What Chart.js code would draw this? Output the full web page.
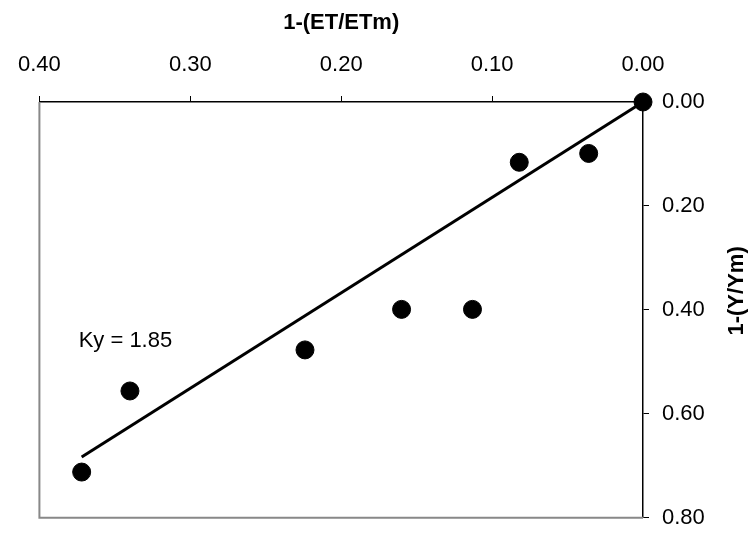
<!DOCTYPE html>
<html>
<head>
<meta charset="utf-8">
<script src="https://cdn.jsdelivr.net/npm/chart.js@4"></script>
<style>
  body { margin: 0; background: #fff; }
</style>
</head>
<body>
<canvas id="kyChart" width="751" height="544"></canvas>
<script>
// measured points: 1-(ET/ETm) vs 1-(Y/Ym)
const etDeficit = [0.000, 0.036, 0.082, 0.113, 0.160, 0.224, 0.340, 0.372];
const yieldDeficit = [0.000, 0.099, 0.116, 0.399, 0.399, 0.477, 0.556, 0.712];

// fitted line ends
const fitX = [0.000, 0.372];
const fitY = [0.000, 0.683];

const xTicks = [0.40, 0.30, 0.20, 0.10, 0.00];
const yTicks = [0.00, 0.20, 0.40, 0.60, 0.80];

const kyLabel = 'Ky = 1.85';
const kyAt = { x: 0.374, y: 0.46 };

const FONT = '"Liberation Sans", Arial, sans-serif';

// gray frame on left/bottom, ky text and rotated right title
const framePlugin = {
  id: 'frame',
  beforeDatasetsDraw(chart) {
    const { ctx, chartArea: a } = chart;
    ctx.save();
    ctx.strokeStyle = '#888';
    ctx.lineWidth = 2;
    ctx.beginPath();
    ctx.moveTo(a.left, a.top);
    ctx.lineTo(a.left, a.bottom);
    ctx.lineTo(a.right, a.bottom);
    ctx.stroke();
    ctx.restore();
  },
  afterDraw(chart) {
    const { ctx, chartArea: a, scales } = chart;
    ctx.save();
    ctx.fillStyle = '#000';
    ctx.font = '22px ' + FONT;
    ctx.textAlign = 'left';
    ctx.textBaseline = 'middle';
    ctx.fillText(kyLabel, scales.x.getPixelForValue(kyAt.x), scales.y.getPixelForValue(kyAt.y));

    ctx.font = 'bold 22px ' + FONT;
    ctx.translate(737, (a.top + a.bottom) / 2 - 19);
    ctx.rotate(-Math.PI / 2);
    ctx.textAlign = 'center';
    ctx.fillText('1-(Y/Ym)', 0, 0);
    ctx.restore();
  }
};

const ctx = document.getElementById('kyChart').getContext('2d');
new Chart(ctx, {
  type: 'scatter',
  data: {
    datasets: [
      {
        label: 'fit',
        data: fitX.map((x, i) => ({ x: x, y: fitY[i] })),
        showLine: true,
        borderColor: '#000',
        borderWidth: 3,
        pointRadius: 0,
        clip: false,
        order: 2
      },
      {
        label: 'observed',
        data: etDeficit.map((x, i) => ({ x: x, y: yieldDeficit[i] })),
        backgroundColor: '#000',
        borderColor: '#000',
        pointRadius: 9,
        clip: false,
        order: 1
      }
    ]
  },
  options: {
    responsive: false,
    animation: false,
    layout: { padding: { left: 32, right: 0, top: 0, bottom: 7 } },
    plugins: {
      legend: { display: false },
      tooltip: { enabled: false }
    },
    scales: {
      x: {
        type: 'linear',
        position: 'top',
        reverse: true,
        min: 0,
        max: 0.4,
        afterFit(scale) { scale.height = 102; },
        afterBuildTicks(scale) { scale.ticks = xTicks.map(v => ({ value: v })); },
        ticks: {
          padding: 18,
          color: '#000',
          font: { family: FONT, size: 22 },
          callback: v => v.toFixed(2)
        },
        grid: { drawOnChartArea: false, drawTicks: true, tickLength: 6, tickColor: '#000' },
        border: { color: '#000', width: 1.5 },
        title: {
          display: true,
          text: '1-(ET/ETm)',
          color: '#000',
          padding: { top: 10, bottom: 0 },
          font: { family: FONT, size: 22, weight: 'bold' }
        }
      },
      y: {
        type: 'linear',
        position: 'right',
        reverse: true,
        min: 0,
        max: 0.8,
        afterFit(scale) { scale.width = 108; },
        afterBuildTicks(scale) { scale.ticks = yTicks.map(v => ({ value: v })); },
        ticks: {
          padding: 13,
          color: '#000',
          font: { family: FONT, size: 22 },
          callback: v => v.toFixed(2)
        },
        grid: { drawOnChartArea: false, drawTicks: true, tickLength: 6, tickColor: '#000' },
        border: { color: '#000', width: 1.5 }
      }
    }
  },
  plugins: [framePlugin]
});
</script>
</body>
</html>
